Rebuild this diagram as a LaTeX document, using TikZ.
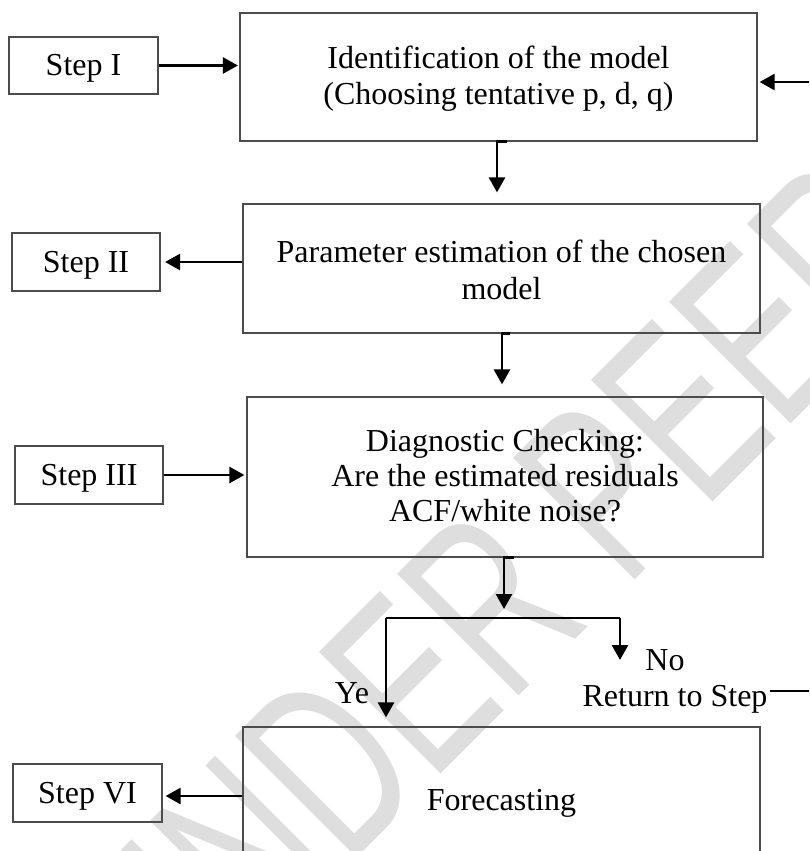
\documentclass[tikz,border=0pt]{standalone}
\usepackage{fontspec}
\setmainfont{Liberation Serif}
\newfontfamily\wmfont{Liberation Sans}
\usetikzlibrary{arrows.meta}
\begin{document}
\begin{tikzpicture}[x=1pt,y=-1pt,
  font=\fontsize{32}{38}\selectfont,
  box/.style={draw=black!70, line width=1.2pt, inner sep=0pt},
  stepbox/.style={box, text height=21pt, text depth=0pt},
  lbl/.style={anchor=base, inner sep=0pt},
  conn/.style={line width=2.6pt, -{Triangle[length=15pt,width=16pt]}},
  plainconn/.style={line width=2.6pt},
]
\useasboundingbox (0,0) rectangle (809,851);
\clip (0,0) rectangle (809,851);
% watermark
\node[rotate=45, xscale=0.66, anchor=base west, text=black!13, inner sep=0pt,
      font=\wmfont\fontsize{250}{250}\selectfont] (wm) at (178.5,1036.5) {UNDER PEER REVIEW};

% step boxes
\node[stepbox, minimum width=149pt, minimum height=57pt] (s1) at (83.5,65.5) {Step I};
\node[stepbox, minimum width=148pt, minimum height=58pt] (s2) at (86,262) {Step II};
\node[stepbox, minimum width=148pt, minimum height=58pt] (s3) at (89,475) {Step III};
\node[stepbox, minimum width=149pt, minimum height=58pt] (s4) at (87.5,793) {Step VI};

% main boxes
\node[box, minimum width=517pt, minimum height=128pt] (b1) at (498.5,77) {};
\node[lbl] (b1a) at (498.5,68.5) {Identification of the model};
\node[lbl] (b1b) at (498.5,104) {(Choosing tentative p, d, q)};

\node[box, minimum width=517pt, minimum height=129pt] (b2) at (501.5,268.5) {};
\node[lbl] (b2a) at (501.5,262) {Parameter estimation of the chosen};
\node[lbl] (b2b) at (501.5,299) {model};

\node[box, minimum width=516pt, minimum height=160pt] (b3) at (505,477) {};
\node[lbl] (b3a) at (505,451) {Diagnostic Checking:};
\node[lbl] (b3b) at (505,486) {Are the estimated residuals};
\node[lbl] (b3c) at (505,521) {ACF/white noise?};

\node[box, minimum width=517pt, minimum height=173pt] (b4) at (501.5,813.5) {};
\node[lbl] (b4a) at (501.5,810) {Forecasting};

% labels of the decision
\node[lbl] (ye) at (352,703) {Ye};
\node[lbl] (no) at (665,670) {No};
\node[lbl] (ret) at (675,706) {Return to Step};

% connectors
\draw[conn, shorten >=1.5pt] (s1.east) -- (s1.east -| b1.west);
\draw[conn, shorten >=11pt] ([xshift=8.5pt]b1.south) -- ([xshift=-1.5pt]b1.south) -- ([xshift=-1.5pt]b1.south |- b2.north);
\draw[conn, shorten >=4.5pt] (s2.east -| b2.west) -- (s2.east);
\draw[conn, shorten >=12pt] ([xshift=8.5pt]b2.south) -- ([xshift=0.5pt]b2.south) -- ([xshift=0.5pt]b2.south |- b3.north);
\draw[conn, shorten >=2pt] (s3.east) -- (s3.east -| b3.west);

\coordinate (fk) at (504,618);
\coordinate (fy) at (386,618);
\coordinate (fn) at (620,618);
\coordinate (nend) at (620,660);
\draw[conn, shorten >=9pt] ([xshift=9pt]b3.south) -- ([xshift=-1pt]b3.south) -- (fk);
\draw[plainconn] (fy) -- (fn);
\draw[conn, shorten >=9pt] (fy) -- (fy |- b4.north);
\draw[conn] (fn) -- (nend);

\coordinate (retA) at (770,691);
\coordinate (retB) at (812,691);
\draw[plainconn] (retA) -- (retB);
\coordinate (retC) at (812,82);
\draw[conn, shorten >=2pt] (retC) -- (retC -| b1.east);

\draw[conn, shorten >=3pt] ([yshift=-3pt]s4.east -| b4.west) -- ([yshift=-3pt]s4.east);
\end{tikzpicture}
\end{document}
